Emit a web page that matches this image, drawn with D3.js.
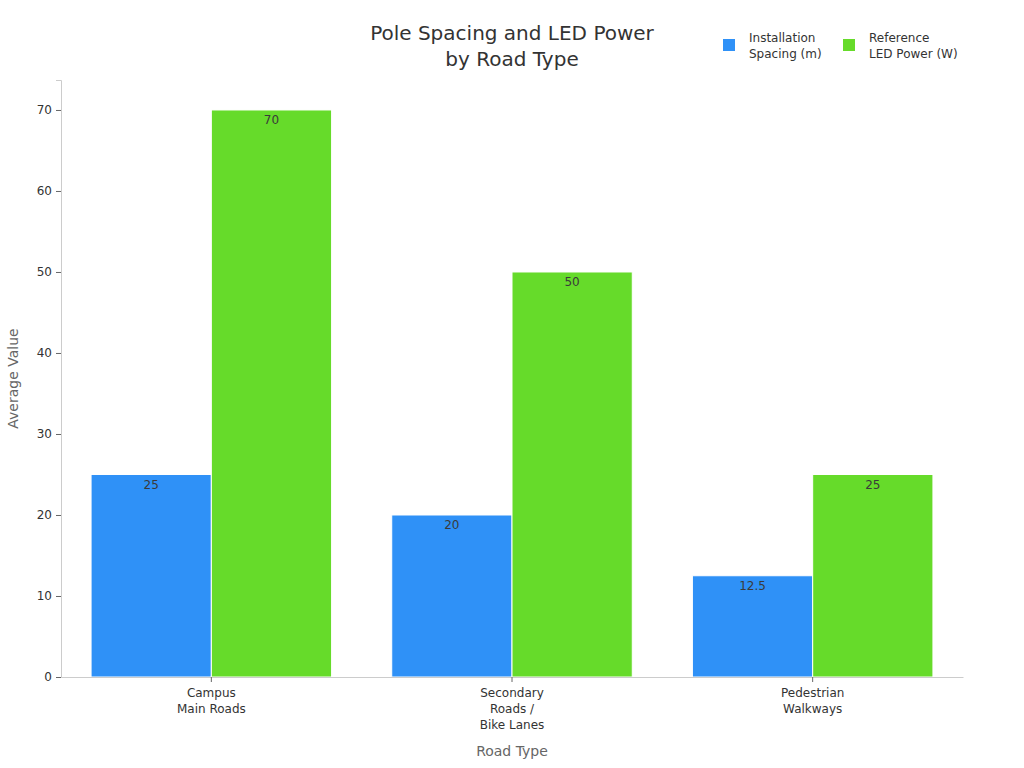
<!DOCTYPE html>
<html>
<head>
<meta charset="utf-8">
<script src="https://cdn.jsdelivr.net/npm/d3@7"></script>
<style>
  body { margin: 0; background: #fff; }
  text { font-family: "DejaVu Sans", sans-serif; }
</style>
</head>
<body>
<script>
var categories = [["Campus", "Main Roads"], ["Secondary", "Roads /", "Bike Lanes"], ["Pedestrian", "Walkways"]]
var seriesNames = [["Installation", "Spacing (m)"], ["Reference", "LED Power (W)"]]
var spacing = [25, 20, 12.5]
var power = [70, 50, 25]
var yTicks = [0, 10, 20, 30, 40, 50, 60, 70]
var colors = ["#2f91f7", "#66db2a"]

var width = 1024, height = 768
var margin = {left: 61, right: 61, top: 80, bottom: 91}

var svg = d3.select('body').append('svg')
	.attr('width', width)
	.attr('height', height)

var keys = categories.map(function(d, i){ return i })
var x = d3.scaleBand().domain(keys)
	.range([margin.left, width - margin.right])
	.paddingInner(0.2).paddingOuter(0.1)
var xs = d3.scaleBand().domain([0, 1]).range([0, x.bandwidth()])
var y = d3.scaleLinear().domain([0, 73.7]).range([height - margin.bottom, margin.top])

var rows = keys.map(function(i){ return [spacing[i], power[i]] })

// bars
var groups = svg.selectAll('.grp').data(rows).enter().append('g')
	.attr('transform', function(d, i){ return 'translate(' + x(i) + ',0)' })

groups.selectAll('rect').data(function(d){ return d }).enter().append('rect')
	.attr('x', function(d, j){ return xs(j) })
	.attr('y', function(d){ return y(d) })
	.attr('width', xs.bandwidth())
	.attr('height', function(d){ return y(0) - y(d) })
	.attr('fill', function(d, j){ return colors[j] })
	.attr('stroke', '#fff')
	.attr('stroke-width', 1)

groups.selectAll('.lbl').data(function(d){ return d }).enter().append('text')
	.attr('x', function(d, j){ return xs(j) + xs.bandwidth() / 2 })
	.attr('y', function(d){ return y(d) + 14.5 })
	.attr('text-anchor', 'middle')
	.attr('font-size', 12)
	.attr('fill', '#3a3a3a')
	.text(function(d){ return d })

// y axis
var yAxis = svg.append('g')
	.attr('transform', 'translate(' + margin.left + ',0)')
	.call(d3.axisLeft(y).tickValues(yTicks).tickSize(5).tickPadding(4))
yAxis.select('.domain').attr('stroke', '#ccc')
yAxis.selectAll('.tick line').attr('stroke', '#666')
yAxis.selectAll('.tick text').attr('font-size', 12).attr('fill', '#333')
	.style('font-family', '"DejaVu Sans", sans-serif')

// x axis
var xAxis = svg.append('g')
	.attr('transform', 'translate(0,' + y(0) + ')')
	.call(d3.axisBottom(x).tickSize(5).tickSizeOuter(0).tickFormat(''))
xAxis.select('.domain').attr('stroke', '#ccc')
xAxis.selectAll('.tick line').attr('stroke', '#666')
xAxis.selectAll('.tick').append('text')
	.attr('text-anchor', 'middle')
	.attr('font-size', 12)
	.attr('fill', '#333')
	.selectAll('tspan').data(function(d){ return categories[d] }).enter().append('tspan')
	.attr('x', 0)
	.attr('y', function(d, k){ return 20 + k * 16 })
	.text(function(d){ return d })

// axis titles
svg.append('text')
	.attr('x', (margin.left + width - margin.right) / 2)
	.attr('y', 756)
	.attr('text-anchor', 'middle')
	.attr('font-size', 14)
	.attr('fill', '#666')
	.text('Road Type')

svg.append('text')
	.attr('transform', 'translate(18,' + (y(0) + margin.top) / 2 + ') rotate(-90)')
	.attr('text-anchor', 'middle')
	.attr('font-size', 14)
	.attr('fill', '#666')
	.text('Average Value')

// title
var title = svg.append('text')
	.attr('text-anchor', 'middle')
	.attr('font-size', 20)
	.attr('fill', '#333')
title.append('tspan').attr('x', 512).attr('y', 40).text('Pole Spacing and LED Power')
title.append('tspan').attr('x', 512).attr('y', 66).text('by Road Type')

// legend
var legend = svg.selectAll('.leg').data(seriesNames).enter().append('g')
	.attr('transform', function(d, i){ return 'translate(' + (723 + i * 120) + ',39)' })
legend.append('rect')
	.attr('width', 12).attr('height', 12)
	.attr('fill', function(d, i){ return colors[i] })
legend.append('text')
	.attr('font-size', 12)
	.attr('fill', '#333')
	.selectAll('tspan').data(function(d){ return d }).enter().append('tspan')
	.attr('x', 26)
	.attr('y', function(d, k){ return 3 + k * 16 })
	.text(function(d){ return d })
</script>
</body>
</html>
